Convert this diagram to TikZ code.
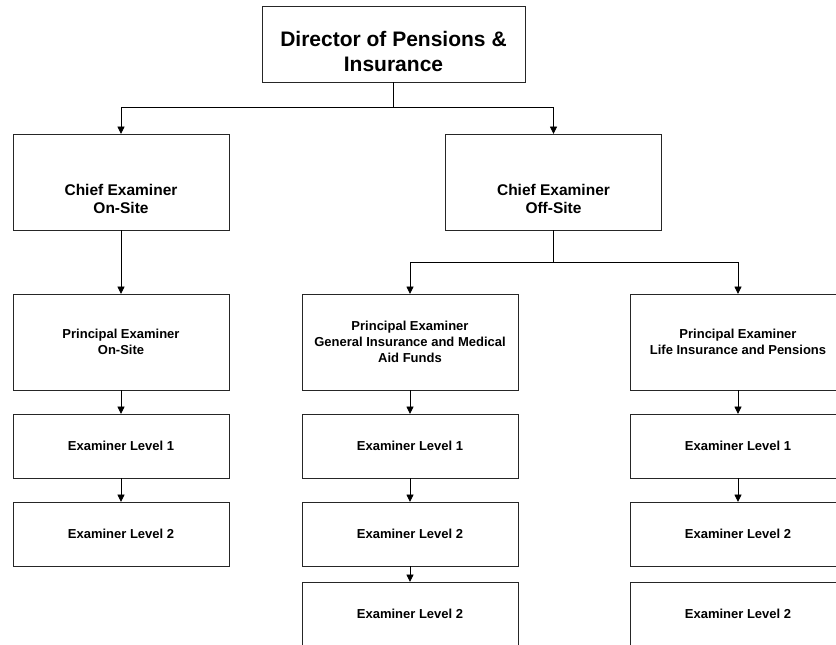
\documentclass[tikz,border=0pt]{standalone}
\usepackage{fontspec}
\setmainfont{Liberation Sans}
\usetikzlibrary{arrows.meta,calc}
\begin{document}
\begin{tikzpicture}[x=1pt,y=-1pt,
  box/.style={draw=black!85, line width=0.9pt, minimum width=216pt,
    inner sep=0pt, outer sep=0pt, align=center,
    font=\fontsize{13}{15.8}\selectfont\bfseries},
  tall/.style={box, minimum height=96pt},
  short/.style={box, minimum height=64pt},
  bigtext/.style={align=center, inner sep=0pt, font=\fontsize{21}{25}\selectfont\bfseries},
  midtext/.style={align=center, inner sep=0pt, font=\fontsize{15.5}{17.7}\selectfont\bfseries},
  link/.style={line width=0.9pt, black},
  arr/.style={link, -{Triangle[length=7.5pt,width=7pt]}}]
\useasboundingbox (0,0) rectangle (836,645);
\clip (0,0) rectangle (836,645);

% head of the organisation
\node[box, minimum width=263pt, minimum height=76pt] (dir) at (393.5,44) {};
\node[bigtext] (dirtext) at (393.5,51) {Director of Pensions \&\\Insurance};

% chief examiners
\node[tall] (chiefA) at (121,182) {};
\node[midtext] (chiefAtext) at (121,199) {Chief Examiner\\On-Site};
\node[tall] (chiefB) at (553.5,182) {};
\node[midtext] (chiefBtext) at (553.5,199) {Chief Examiner\\Off-Site};

% on-site column
\node[tall]  (pA)  at (121,342) {Principal Examiner\\On-Site};
\node[short] (a1)  at (121,446) {Examiner Level 1};
\node[short] (a2)  at (121,534) {Examiner Level 2};

% general insurance column
\node[tall]  (pB)  at (410,342) {Principal Examiner\\General Insurance and Medical\\Aid Funds};
\node[short] (b1)  at (410,446) {Examiner Level 1};
\node[short] (b2)  at (410,534) {Examiner Level 2};
\node[short] (b3)  at (410,614) {Examiner Level 2};

% life insurance column
\node[tall]  (pC)  at (738,342) {Principal Examiner\\Life Insurance and Pensions};
\node[short] (c1)  at (738,446) {Examiner Level 1};
\node[short] (c2)  at (738,534) {Examiner Level 2};
\node[short] (c3)  at (738,614) {Examiner Level 2};

% connectors
\coordinate (j1) at ($(dir.south)+(0,25)$);
\draw[link] (dir.south) -- (j1);
\draw[arr] (j1) -| (chiefA.north);
\draw[arr] (j1) -| (chiefB.north);

\coordinate (j2) at ($(chiefB.south)+(0,32)$);
\draw[link] (chiefB.south) -- (j2);
\draw[arr] (j2) -| (pB.north);
\draw[arr] (j2) -| (pC.north);

\draw[arr] (chiefA.south) -- (pA.north);
\draw[arr] (pA.south) -- (a1.north);
\draw[arr] (a1.south) -- (a2.north);

\draw[arr] (pB.south) -- (b1.north);
\draw[arr] (b1.south) -- (b2.north);
\draw[arr] (b2.south) -- (b3.north);

\draw[arr] (pC.south) -- (c1.north);
\draw[arr] (c1.south) -- (c2.north);
\end{tikzpicture}
\end{document}
